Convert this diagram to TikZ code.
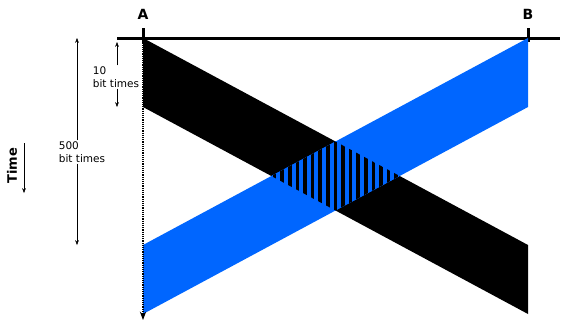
\documentclass[tikz,border=0pt]{standalone}
\usepackage{fontspec}
\setmainfont{DejaVu Sans}
\usetikzlibrary{arrows.meta, positioning, calc}
\definecolor{bandblue}{RGB}{0,102,255}

\begin{document}
\begin{tikzpicture}[x=1pt, y=-1pt, >=Stealth,
    lbl/.style={font=\fontsize{10.5}{13}\selectfont, align=left, inner sep=1pt},
    station/.style={font=\bfseries\fontsize{14}{14}\selectfont, inner sep=1pt}]
    \useasboundingbox (0,0) rectangle (562,322);

    % stations A and B
    \coordinate (A) at (143,38);
    \coordinate (B) at (528,38);
    \coordinate (Aend) at (143,320);
    \draw[line width=3pt] (117,38) -- (560,38);
    \draw[line width=3pt] (143,28) -- (143,42);
    \draw[line width=3pt] (528,28) -- (528,42);
    \node[station] (la) at (143,14) {A};
    \node[station] (lb) at (528,14) {B};

    % bands: A sends (black), B sends (blue)
    \fill[black] (A) -- (528,245) -- (528,314) -- (143,107) -- cycle;
    \fill[bandblue] (B) -- (143,245) -- (143,314) -- (528,107) -- cycle;

    % overlap (collision)
    \begin{scope}
        \clip (A) -- (528,245) -- (528,314) -- (143,107) -- cycle;
        \clip (B) -- (143,245) -- (143,314) -- (528,107) -- cycle;
        \fill[bandblue] (260,130) rectangle (410,225);
        \foreach \i in {0,...,18}
            \fill[black] ({265.1+7.6*\i},130) rectangle ++(3.6,95);
    \end{scope}

    % time line at A
    \draw[->, densely dotted, line width=1.2pt] (A) -- (Aend);

    % 10 bit times
    \coordinate (tenhi) at (117,42);
    \coordinate (tenlo) at (117,107);
    \node[lbl] (ten) at (116,77) {10\\bit times};
    \draw[->] (ten.north -| tenhi) -- (tenhi);
    \draw[->] (ten.south -| tenlo) -- (tenlo);

    % 500 bit times
    \coordinate (fivehi) at (77,38);
    \coordinate (fivelo) at (77,245);
    \node[lbl] (five) at (82,152) {500\\bit times};
    \draw[->] (five.north -| fivehi) -- (fivehi);
    \draw[->] (five.south -| fivelo) -- (fivelo);

    % time axis
    \node[font=\bfseries\fontsize{13}{13}\selectfont, rotate=90, inner sep=0pt] (time) at (12,166) {Time};
    \coordinate (timetop) at (24,143);
    \coordinate (timebot) at (24,193);
    \draw[->] (timetop) -- (timebot);
\end{tikzpicture}
\end{document}
